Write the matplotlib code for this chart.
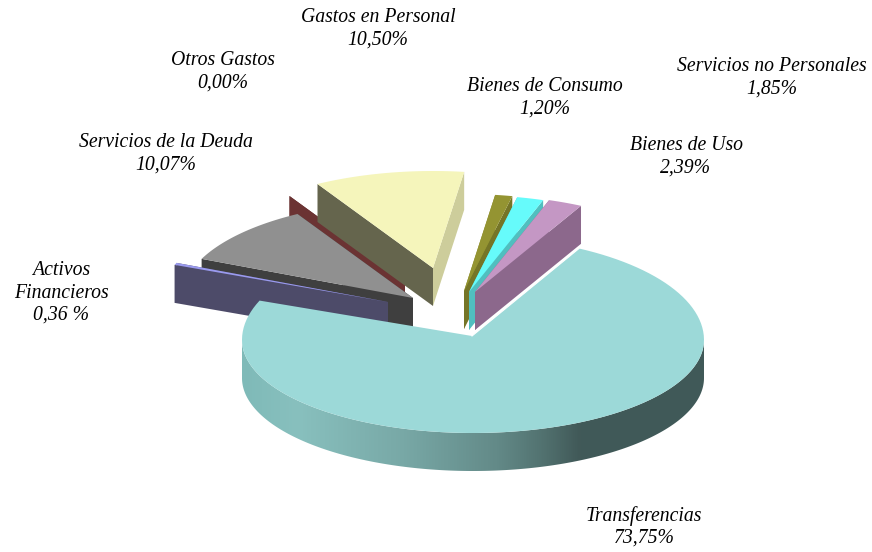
import numpy as np
import matplotlib
matplotlib.use('Agg')
import matplotlib.pyplot as plt
from matplotlib.colors import LinearSegmentedColormap
from matplotlib.patches import Polygon

# slices in clockwise order, first one starts at start_angle
names = ['Gastos en Personal', 'Bienes de Consumo', 'Servicios no Personales', 'Bienes de Uso',
         'Transferencias', 'Activos\nFinancieros', 'Servicios de la Deuda', 'Otros Gastos']
values = [10.50, 1.20, 1.85, 2.39, 73.75, 0.36, 10.07, 0.00]

# look of the slices
top_colors = ['#F5F5BB', '#949432', '#66FBFB', '#C497C4', '#9CD9D8', '#9A9AEE', '#909090', '#6B3333']
left_colors = ['#65654D', '#8B8B2E', '#50BFBF', '#8C688C', '#9CD9D8', '#4D4B69', '#3F3F3F', '#6B3333']
right_colors = ['#CDCD9B', '#757527', '#50BFBF', '#8C688C', '#9CD9D8', '#4D4B69', '#3F3F3F', '#6B3333']
explode_x = [-40, -9, -4, 2, 0, -85, -60, -68]
explode_y = [-72, -49, -48, -48, 0, -38, -42, -60]
label_x = [378, 545, 772, 686, 644, 61, 166, 223]
label_y = [29, 98, 78, 157, 527, 293, 154, 72]
draw_order = [7, 0, 6, 5, 4, 1, 2, 3]

start_angle = -30
cx, cy = 473, 340
rx, ry_front = 231, 93
ry_back_main, ry_back_out = 103, 97
depth = 38

plt.rcParams['font.family'] = ['Liberation Serif', 'DejaVu Serif']


def project(angle, dx=0, dy=0, ry_back=ry_back_main):
    t = np.radians(angle)
    c = np.cos(t)
    y = c * np.where(c > 0, ry_back, ry_front)
    return np.column_stack([cx + dx + rx * np.sin(t), cy + dy - y])


def down(pts):
    return pts + np.array([0, depth])


fig = plt.figure(figsize=(8.72, 5.52), dpi=100)
ax = fig.add_axes([0, 0, 1, 1])

total = sum(values)
edges = start_angle + np.concatenate([[0], np.cumsum(values)]) * 360 / total

for i in draw_order:
    a0, a1 = edges[i], edges[i + 1]
    dx, dy = explode_x[i], explode_y[i]
    angles = np.linspace(a0, a1, 120)

    if names[i] == 'Transferencias':
        tip = np.array([[cx - 1, cy - 4]])
        arc = project(angles, dx, dy)
        # outer rim with the shading going dark to the right
        front = project(np.linspace(90, 270, 200), dx, dy)
        rim = Polygon(np.vstack([front, down(front)[::-1]]), closed=True, fc='none', ec='none')
        ax.add_patch(rim)
        shade = LinearSegmentedColormap.from_list('rim', [
            (0.0, '#7FBAB8'), (0.12, '#88C0BE'), (0.35, '#78A8A6'), (0.55, '#638A88'),
            (0.65, '#527270'), (0.73, '#415958'), (1.0, '#405A59')])
        im = ax.imshow(np.linspace(0, 1, 256)[None, :], cmap=shade, aspect='auto',
                       extent=[cx - rx, cx + rx, cy + depth + ry_front, cy - 10], zorder=1)
        im.set_clip_path(rim)
    else:
        tip = np.array([[cx + dx, cy + dy]])
        arc = project(angles, dx, dy, ry_back_out)
        left = np.vstack([tip, arc[:1]])
        right = np.vstack([tip, arc[-1:]])
        ax.add_patch(Polygon(np.vstack([left, down(left)[::-1]]), closed=True,
                             fc=left_colors[i], ec='none', zorder=1))
        ax.add_patch(Polygon(np.vstack([right, down(right)[::-1]]), closed=True,
                             fc=right_colors[i], ec='none', zorder=1))

    ax.add_patch(Polygon(np.vstack([tip, arc]), closed=True, fc=top_colors[i], ec='none', zorder=1))

    if names[i] == 'Transferencias':
        ax.plot([tip[0, 0], arc[0, 0]], [tip[0, 1], arc[0, 1]], color='white', lw=0.8, zorder=1)

    pct = f'{values[i]:.2f}'.replace('.', ',')
    pct += ' %' if names[i].startswith('Activos') else '%'
    ax.text(label_x[i], label_y[i], names[i] + '\n' + pct, ha='center', va='center',
            style='italic', fontsize=14.2, color='black', linespacing=1.22, zorder=3)

ax.set_xlim(0, 872)
ax.set_ylim(552, 0)
ax.axis('off')

fig.savefig('out.png', dpi=100)
